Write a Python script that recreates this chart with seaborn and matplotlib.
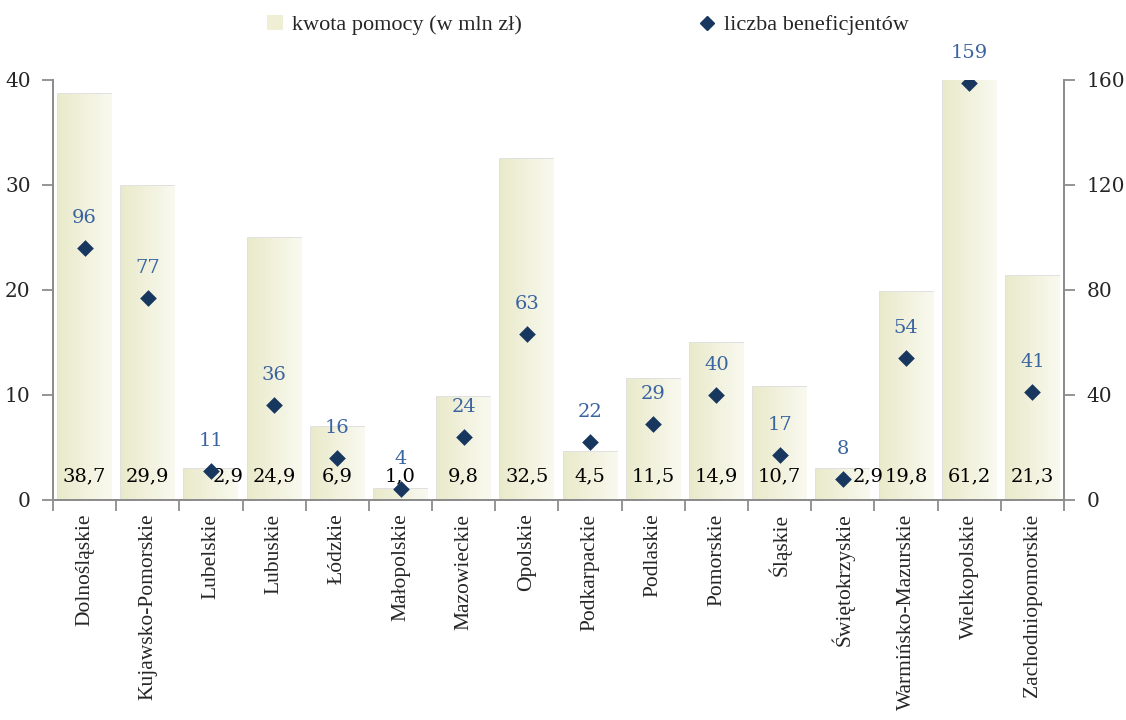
import numpy as np
import pandas as pd
import matplotlib
matplotlib.use("Agg")
import matplotlib.pyplot as plt
import seaborn as sns
from matplotlib.colors import LinearSegmentedColormap
from matplotlib.lines import Line2D
from matplotlib.patches import Patch

regions = ["Dolnośląskie", "Kujawsko-Pomorskie", "Lubelskie", "Lubuskie", "Łódzkie",
           "Małopolskie", "Mazowieckie", "Opolskie", "Podkarpackie", "Podlaskie",
           "Pomorskie", "Śląskie", "Świętokrzyskie", "Warmińsko-Mazurskie",
           "Wielkopolskie", "Zachodniopomorskie"]
amount = [38.7, 29.9, 2.9, 24.9, 6.9, 1.0, 9.8, 32.5, 4.5, 11.5, 14.9, 10.7, 2.9, 19.8, 61.2, 21.3]
beneficiaries = [96, 77, 11, 36, 16, 4, 24, 63, 22, 29, 40, 17, 8, 54, 159, 41]
left_ticks = [0, 10, 20, 30, 40]
right_ticks = [0, 40, 80, 120, 160]

sns.set_theme(style="white")
plt.rcParams['font.family'] = ['Liberation Serif', 'DejaVu Serif']
NUMFONT = ['DejaVu Serif']

df = pd.DataFrame({"region": regions, "amount": amount, "beneficiaries": beneficiaries})

fig = plt.figure(figsize=(11.26, 7.2), dpi=100)
ax = fig.add_axes([0.047, 0.306, 0.898, 0.583])

sns.barplot(data=df, x="region", y="amount", ax=ax, color="#EFEFD6", width=0.84,
            edgecolor="#DADADA", linewidth=1.2, saturation=1)
ax.set_ylim(0, 40)
ax.set_xlim(-0.5, len(regions) - 0.5)

# gradient fill on bars
cmap = LinearSegmentedColormap.from_list("g", ["#EAEACB", "#F9F9F0"])
grad = np.linspace(0, 1, 64).reshape(1, -1)
for p in ax.patches:
    x0, w, h = p.get_x(), p.get_width(), p.get_height()
    im = ax.imshow(grad, cmap=cmap, aspect="auto", extent=[x0, x0 + w, 0, min(h, 40)],
                   zorder=p.get_zorder() + 0.1)
    im.set_clip_path(p)

# bar value labels
offsets = {2: 0.27, 12: 0.40}
for i, v in enumerate(amount):
    ax.text(i + offsets.get(i, 0), 2.2, f"{v:.1f}".replace(".", ","), ha="center", va="center",
            fontsize=14, color="black", zorder=6, family=NUMFONT)

ax2 = ax.twinx()
sns.stripplot(data=df, x="region", y="beneficiaries", ax=ax2, jitter=False, marker="D",
              color="#17375E", size=8.5, linewidth=0, zorder=5)
ax2.set_ylim(0, 160)
ax2.set_xlim(-0.5, len(regions) - 0.5)
for i, v in enumerate(beneficiaries):
    ax2.text(i, v + 8, str(v), ha="center", va="bottom", fontsize=14, color="#3A64A0",
             zorder=6, family=NUMFONT)

# axes styling
for a in (ax, ax2):
    for s in a.spines.values():
        s.set_color("#8C8C8C")
        s.set_linewidth(1.3)
    a.spines["top"].set_visible(False)
    a.set_xlabel("")
    a.set_ylabel("")
ax.set_yticks(left_ticks)
ax.set_yticklabels([str(t) for t in left_ticks], fontsize=14.5, family=NUMFONT)
ax2.set_yticks(right_ticks)
ax2.set_yticklabels([str(t) for t in right_ticks], fontsize=14.5, family=NUMFONT)
ax.tick_params(axis="y", left=True, length=8, width=1.3, color="#8C8C8C", pad=8)
ax2.tick_params(axis="y", right=True, length=8, width=1.3, color="#8C8C8C", pad=8)

ax.set_xticks(np.arange(len(regions)))
ax.set_xticklabels(regions, rotation=90, fontsize=15.5)
ax.tick_params(axis="x", bottom=False, pad=4)
ax.set_xticks(np.arange(len(regions) + 1) - 0.5, minor=True)
ax.tick_params(axis="x", which="minor", bottom=True, length=8, width=1.3, color="#8C8C8C")
ax2.tick_params(axis="x", bottom=False, labelbottom=False)

handles = [Patch(facecolor="#EFEFD6", edgecolor="none", label="kwota pomocy (w mln zł)"),
           Line2D([], [], marker="D", linestyle="none", color="#17375E", markersize=7,
                  label="liczba beneficjentów")]
fig.legend(handles=handles, loc="center", bbox_to_anchor=(0.522, 0.965), ncol=2, frameon=False,
           fontsize=16, columnspacing=8, handlelength=0.7, handletextpad=0.4)

fig.savefig("out.png", dpi=100)
